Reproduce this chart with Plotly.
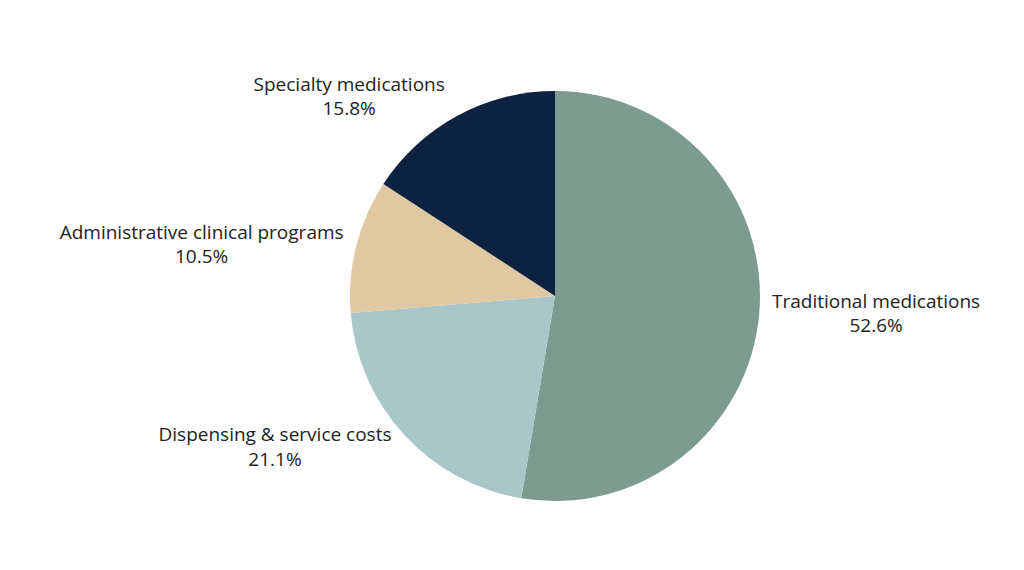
import plotly.graph_objects as go

labels = ["Traditional medications", "Dispensing & service costs",
          "Administrative clinical programs", "Specialty medications"]
values = [10, 4, 2, 3]
colors = ["#7d9c8f", "#a9c6c8", "#dfc8a2", "#0d2240"]

fig = go.Figure(go.Pie(
    labels=labels,
    values=values,
    sort=False,
    direction="clockwise",
    rotation=0,
    marker=dict(colors=colors, line=dict(width=0)),
    textposition="outside",
    texttemplate="%{label}<br>%{percent:.1%}",
    textfont=dict(family="Open Sans", size=19, color="#222222"),
    showlegend=False,
    hoverinfo="label+percent",
))

fig.update_layout(
    width=1024,
    height=570,
    margin=dict(l=40, r=0, t=83, b=77),
    paper_bgcolor="white",
    plot_bgcolor="white",
)

fig.write_html("out.html")
